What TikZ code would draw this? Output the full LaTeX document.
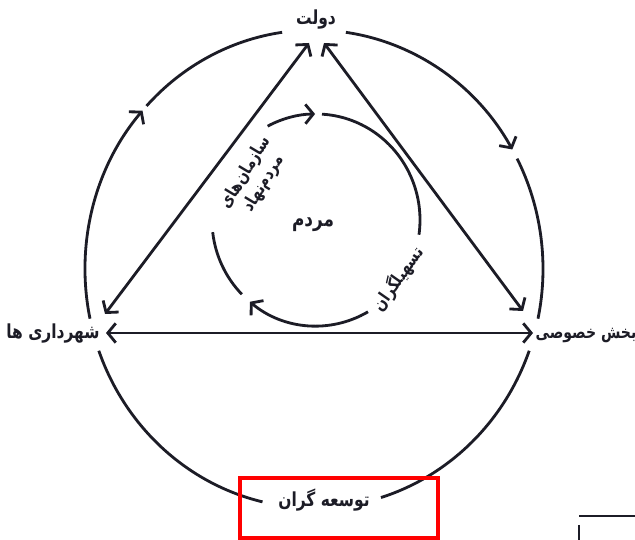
\documentclass[tikz,border=0pt]{standalone}
\usepackage{fontspec}
\newfontfamily\arabicfont[Script=Arabic, FakeStretch=0.8]{DejaVu Sans}
\TeXXeTstate=1
\usetikzlibrary{arrows.meta}
\definecolor{ink}{RGB}{28,28,38}

\tikzset{
  arcline/.style={draw=ink, line width=1.6pt},
  linkline/.style={draw=ink, line width=1.6pt},
  biglabel/.style={inner sep=1pt, text=ink, font=\arabicfont\bfseries\fontsize{11}{13}\selectfont},
  smalllabel/.style={inner sep=1pt, text=ink, font=\arabicfont\bfseries\fontsize{10}{12}\selectfont}
}

\begin{document}
\begin{tikzpicture}[x=0.02cm, y=0.02cm, >={Straight Barb[length=4.5pt,width=11pt]}]
        \useasboundingbox (0,0) rectangle (635,540);

        % actors
        \node[biglabel] (gov) at (316,520) {\beginR دولت\endR};
        \node[biglabel] (city) at (53,206) {\beginR شهرداری ها\endR};
        \node[biglabel, font=\arabicfont\bfseries\fontsize{10}{12}\selectfont] (private) at (586,204) {\beginR بخش خصوصی\endR};
        \node[biglabel] (dev) at (324,40) {\beginR توسعه گران\endR};

        % inner labels
        \node[smalllabel, font=\arabicfont\bfseries\fontsize{12}{14}\selectfont] (people) at (313,315) {\beginR مردم\endR};
        \node[smalllabel, rotate=59, align=center] (ngo) at (255,362) {\beginR سازمان‌های\endR\\\beginR مردم‌نهاد\endR};
        \node[smalllabel, rotate=55] (facil) at (398,261) {\beginR تسهیلگران\endR};

        % outer cycle
        \coordinate (O) at (314,271);
        \foreach \a/\b in {192/138.5, 82/30} {
            \draw[arcline,->] (O) ++(\a:229 and 239) arc[start angle=\a, end angle=\b, x radius=229, y radius=239];
        }
        \foreach \a/\b in {137/98, 27.5/-12, 200/257, 287/340} {
            \draw[arcline] (O) ++(\a:229 and 239) arc[start angle=\a, end angle=\b, x radius=229, y radius=239];
        }

        % inner cycle
        \coordinate (I) at (316,320);
        \foreach \a/\b in {117.7/90.5, -60/-129.5} {
            \draw[arcline,->] (I) ++(\a:104 and 106) arc[start angle=\a, end angle=\b, x radius=104, y radius=106];
        }
        \foreach \a/\b in {86.7/-8, 224.5/186.6} {
            \draw[arcline] (I) ++(\a:104 and 106) arc[start angle=\a, end angle=\b, x radius=104, y radius=106];
        }

        % triangle
        \coordinate (topL) at (309,497);
        \coordinate (topR) at (324,497);
        \coordinate (botL) at (105,226);
        \coordinate (botR) at (523,229);
        \coordinate (midL) at (106,207);
        \coordinate (midR) at (533,207);
        \draw[linkline,<->] (topL) -- (botL);
        \draw[linkline,<->] (topR) -- (botR);
        \draw[linkline,<->] (midL) -- (midR);

        % frame round the bottom label
        \draw[red, line width=2pt] (240,62) rectangle (438,2);

        % corner marks
        \draw[ink, line width=1.2pt] (579,24) -- (635,24);
        \draw[ink, line width=1.2pt] (579,15) -- (579,0);
    \end{tikzpicture}
\end{document}
